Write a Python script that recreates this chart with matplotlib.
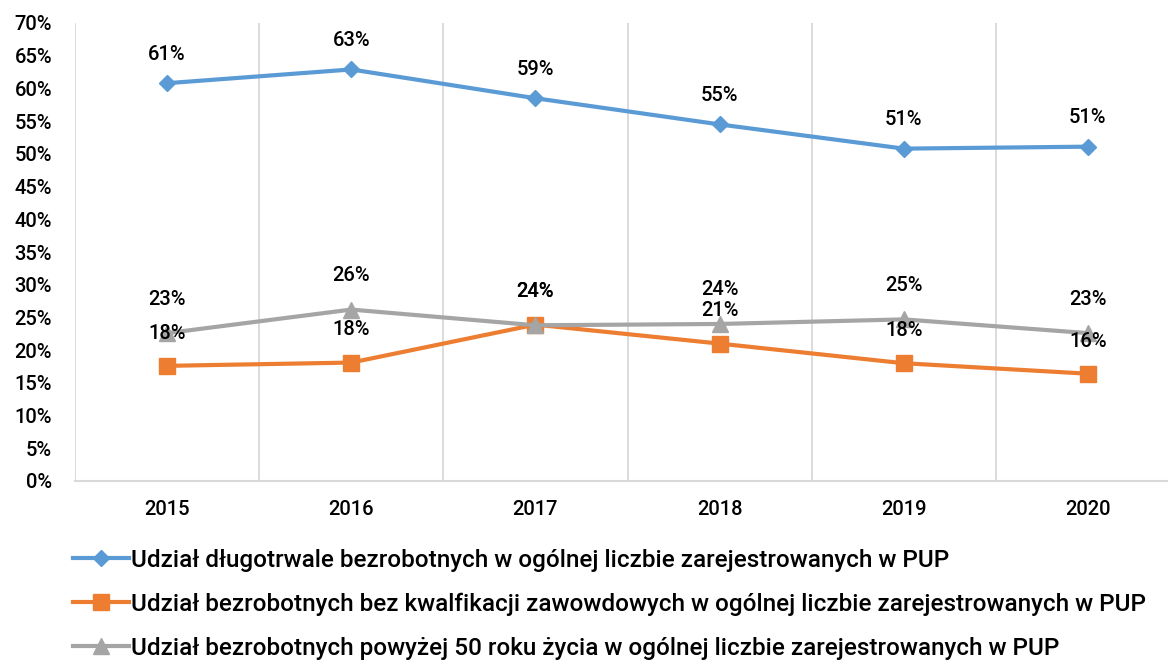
import matplotlib
matplotlib.use("Agg")
import matplotlib.pyplot as plt

plt.rcParams['font.family'] = ["Roboto", "DejaVu Sans"]
plt.rcParams['font.weight'] = "medium"

years = ["2015", "2016", "2017", "2018", "2019", "2020"]
long_term = [60.8, 62.9, 58.5, 54.5, 50.8, 51.1]
no_qual = [17.6, 18.1, 23.9, 21.0, 18.0, 16.4]
over50 = [22.6, 26.2, 23.8, 24.0, 24.7, 22.6]
long_lbl = ["61%", "63%", "59%", "55%", "51%", "51%"]
noq_lbl = ["18%", "18%", "24%", "21%", "18%", "16%"]
o50_lbl = ["23%", "26%", "24%", "24%", "25%", "23%"]
names_s = [
    "Udział długotrwale bezrobotnych w ogólnej liczbie zarejestrowanych w PUP",
    "Udział bezrobotnych bez kwalfikacji zawowdowych w ogólnej liczbie zarejestrowanych w PUP",
    "Udział bezrobotnych powyżej 50 roku życia w ogólnej liczbie zarejestrowanych w PUP",
]
yticks = list(range(0, 75, 5))

W, H = 1168, 662
fig = plt.figure(figsize=(W / 100, H / 100), dpi=100)
ax = fig.add_axes([75 / W, 1 - 481 / H, (1180 - 75) / W, (481 - 23) / H])

x = list(range(len(years)))
blue, orange, gray = "#5B9BD5", "#ED7D31", "#A5A5A5"
l1, = ax.plot(x, long_term, color=blue, lw=3, marker="D", ms=8.5, zorder=3)
l2, = ax.plot(x, no_qual, color=orange, lw=3, marker="s", ms=11, zorder=3)
l3, = ax.plot(x, over50, color=gray, lw=3, marker="^", ms=11, zorder=4)

for vals, lbls, off in [(long_term, long_lbl, 21), (over50, o50_lbl, 24.5), (no_qual, noq_lbl, 23.5)]:
    for xi, v, t in zip(x, vals, lbls):
        ax.annotate(t, (xi, v), xytext=(0, off), textcoords="offset points",
                    ha="center", va="center", fontsize=14.5, color="black", zorder=5)

ax.set_xlim(-0.5, len(years) - 0.5)
ax.set_ylim(0, 70)
ax.set_yticks(yticks)
ax.set_yticklabels([f"{t}%" for t in yticks])
ax.set_xticks(x)
ax.set_xticklabels(years)
for b in range(0, len(years)):
    ax.axvline(b - 0.5, color="#D9D9D9", lw=1.3, zorder=1)
for s in ["top", "right", "left"]:
    ax.spines[s].set_visible(False)
ax.spines["bottom"].set_color("#D9D9D9")
ax.spines["bottom"].set_linewidth(1.5)
ax.tick_params(axis="both", length=0, labelsize=14.5, colors="black")
ax.tick_params(axis="x", pad=14)
ax.tick_params(axis="y", pad=16.5)

fig.legend([l1, l2, l3], names_s, loc="upper left", bbox_to_anchor=(73 / W, 1 - 549 / H),
           frameon=False, fontsize=17.5, handlelength=2.3, handletextpad=0.1,
           labelspacing=0.85, borderaxespad=0, borderpad=0)

fig.savefig("out.png", dpi=100)
